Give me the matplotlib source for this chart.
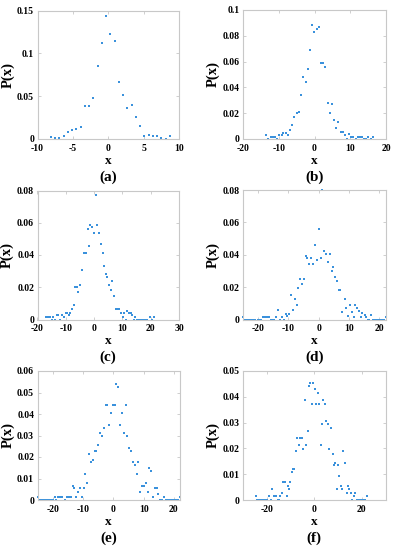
import matplotlib
matplotlib.use("Agg")
import matplotlib.pyplot as plt
from matplotlib.ticker import FuncFormatter

plt.rcParams['font.family'] = ['Liberation Serif', 'DejaVu Serif']
plt.rcParams['font.weight'] = 'bold'
plt.rcParams['axes.unicode_minus'] = False

# ---------------- data ----------------
xa = [-8.1, -7.5, -6.9, -6.3, -5.7, -5.1, -4.5, -3.9, -3.3, -2.7, -2.1, -1.5, -0.9, -0.3,
      0.3, 0.9, 1.5, 2.1, 2.7, 3.3, 3.9, 4.5, 5.1, 5.7, 6.3, 6.9, 7.5, 8.1, 8.7]
pa = [0.0027, 0.001, 0.001, 0.003, 0.008, 0.011, 0.012, 0.014, 0.038, 0.038, 0.048, 0.085, 0.112, 0.143,
      0.122, 0.114, 0.067, 0.051, 0.036, 0.040, 0.026, 0.015, 0.004, 0.005, 0.004, 0.003, 0.0015, 0.0, 0.003]

xb = [-13.6, -12.9, -12.3, -11.7, -11.1, -10.5, -9.9, -9.2, -8.7, -8.0, -7.4, -6.8, -6.2, -5.6, -5.0,
      -4.3, -3.8, -3.1, -2.45, -1.9, -1.3, -0.75, -0.2, 0.57, 1.2, 1.8, 2.45, 3.0, 3.7, 4.2, 4.8,
      5.5, 6.0, 6.7, 7.3, 7.9, 8.5, 9.1, 9.7, 10.3, 10.8, 11.5, 12.1, 12.7, 13.3, 13.9, 14.5, 15.1,
      15.8, 16.3]
pb = [0.003, 0.0, 0.0013, 0.0013, 0.0013, 0.0, 0.003, 0.003, 0.005, 0.0045, 0.003, 0.0066, 0.011, 0.017, 0.020,
      0.021, 0.034, 0.048, 0.044, 0.054, 0.069, 0.088, 0.083, 0.085, 0.087, 0.059, 0.059, 0.056, 0.028, 0.020, 0.027,
      0.015, 0.0085, 0.0134, 0.0054, 0.0054, 0.003, 0.0, 0.004, 0.0013, 0.0013, 0.0, 0.0013, 0.0013, 0.0013, 0.0, 0.0, 0.0013,
      0.0, 0.0013]

xc = [-17.0, -16.3, -15.6, -14.9, -14.4, -13.8, -13.2, -12.6, -12.0, -11.4, -10.8, -10.1, -9.6, -9.0, -8.4,
      -7.8, -7.2, -6.6, -6.2, -5.6, -4.9, -4.3, -3.5, -2.9, -2.3, -1.9, -1.3, -0.6, -0.2, 0.5, 1.2, 1.7,
      2.3, 3.0, 3.5, 4.1, 4.5, 5.2, 5.8, 6.5, 7.1, 7.7, 8.3, 8.9, 9.6, 10.1, 10.6, 11.2, 11.8, 12.4, 12.9,
      13.5, 14.1, 14.6, 15.2, 15.8, 16.4, 17.0, 17.6, 18.2, 18.8, 19.8, 20.5, 21.2]
pc = [0.0015, 0.0015, 0.0015, 0.0, 0.0015, 0.0, 0.0027, 0.0027, 0.0, 0.0027, 0.0015, 0.004, 0.004, 0.0027, 0.004,
      0.0065, 0.0093, 0.020, 0.020, 0.0173, 0.0212, 0.0305, 0.0412, 0.0412, 0.056, 0.0454, 0.0586, 0.0571, 0.0536, 0.0773, 0.0586, 0.0534,
      0.0466, 0.0412, 0.033, 0.028, 0.0266, 0.0212, 0.0186, 0.024, 0.0144, 0.0064, 0.0064, 0.0064, 0.004, 0.0015, 0.004, 0.0, 0.0052, 0.004, 0.004,
      0.0027, 0.0, 0.0015, 0.0, 0.0, 0.0, 0.0, 0.0, 0.0, 0.0, 0.0015, 0.0, 0.0015]

xd = [-24.9, -24.2, -23.6, -22.9, -22.2, -21.6, -20.9, -20.2, -19.6, -19.0, -18.4, -17.8, -17.1, -16.4,
      -15.8, -15.1, -14.6, -14.0, -13.3, -12.7, -12.1, -11.6, -10.9, -10.3, -9.8, -9.2, -8.4, -7.9, -7.3,
      -6.7, -6.1, -5.6, -4.9, -4.2, -3.7, -3.1, -2.4, -1.9, -1.2, -0.6, 0.1, 0.7, 1.2, 1.8, 2.6, 3.1, 3.8,
      4.3, 4.9, 5.4, 6.0, 6.6, 7.2, 7.8, 8.6, 9.2, 9.8, 10.4, 11.0, 11.6, 12.1, 12.8, 13.4, 13.9, 14.5,
      15.2, 15.7, 16.3, 16.8, 17.3, 17.9, 18.5, 19.1, 19.7, 20.3, 20.9, 21.5, 22.3]
pd_ = [0.0015, 0.0, 0.0, 0.0, 0.0, 0.0, 0.0, 0.0, 0.0, 0.0, 0.0015, 0.0015, 0.0015, 0.0015,
       0.0, 0.0, 0.0, 0.0015, 0.0058, 0.0, 0.0015, 0.0, 0.0033, 0.002, 0.0033, 0.0154, 0.0058, 0.0129, 0.0087,
       0.0193, 0.025, 0.022, 0.025, 0.0395, 0.038, 0.034, 0.038, 0.034, 0.0463, 0.0368, 0.0557, 0.038, 0.08, 0.0422, 0.0407, 0.0357, 0.0407,
       0.030, 0.0326, 0.026, 0.0235, 0.018, 0.018, 0.0044, 0.0127, 0.0073, 0.0019, 0.0087, 0.0044, 0.0015, 0.0087, 0.0073, 0.0054, 0.0015, 0.004,
       0.0027, 0.0015, 0.0, 0.0, 0.0027, 0.0, 0.0, 0.0, 0.0, 0.0, 0.0, 0.0, 0.0015]

xe = [-25.0, -24.5, -23.9, -23.2, -22.5, -21.9, -21.2, -20.5, -19.9, -19.3, -18.8, -18.1, -17.5, -16.8,
      -15.9, -15.3, -14.6, -14.0, -13.4, -12.9, -12.3, -11.6, -11.0, -10.3, -9.8, -9.2, -8.7, -8.0, -7.4,
      -6.8, -6.2, -5.6, -5.1, -4.4, -3.7, -3.2, -2.5, -2.0, -1.4, -0.8, -0.1, 0.4, 1.0, 1.6, 2.2, 2.9, 3.4,
      4.1, 4.6, 5.3, 5.9, 6.5, 7.1, 7.7, 8.2, 8.9, 9.6, 10.1, 10.8, 11.3, 11.9, 12.5, 13.1, 13.7, 14.3,
      14.9, 15.5, 16.0, 16.7, 17.4, 18.0, 18.7, 19.3, 20.0, 20.7, 21.3, 21.9]
pe = [0.0013, 0.0, 0.0, 0.0, 0.0, 0.0, 0.0, 0.0, 0.0, 0.0013, 0.0, 0.0013, 0.0013, 0.0013,
      0.0, 0.0013, 0.0013, 0.0013, 0.0067, 0.0055, 0.0013, 0.0039, 0.0055, 0.0013, 0.0055, 0.012, 0.0081, 0.0214, 0.0175,
      0.0188, 0.0228, 0.0228, 0.0255, 0.031, 0.0297, 0.0336, 0.0444, 0.0444, 0.0348, 0.0406, 0.0444, 0.0444, 0.054, 0.0525, 0.0348, 0.0406, 0.031,
      0.0444, 0.0297, 0.024, 0.0228, 0.0175, 0.0161, 0.012, 0.0175, 0.0039, 0.0067, 0.0067, 0.0081, 0.0039, 0.0147, 0.0134, 0.0013, 0.0055, 0.0055,
      0.0028, 0.0, 0.0, 0.0013, 0.0, 0.0, 0.0, 0.0, 0.0, 0.0, 0.0, 0.0013]

xf = [-24.7, -24.0, -23.3, -22.6, -21.8, -21.1, -20.4, -19.7, -19.1, -18.3, -17.9, -17.0, -16.2, -15.3,
      -14.9, -14.3, -13.6, -13.0, -12.3, -11.6, -11.2, -10.6, -10.1, -9.5, -8.9, -8.4, -7.8, -7.1, -6.5,
      -5.9, -5.2, -4.7, -4.0, -3.4, -2.8, -2.1, -1.6, -1.0, -0.4, 0.3, 0.85, 1.4, 2.1, 2.7, 3.3, 3.8, 4.4,
      5.1, 5.7, 6.4, 7.1, 7.7, 8.2, 8.8, 9.4, 10.1, 10.5, 11.2, 11.8, 12.3, 12.9, 13.6, 14.2, 14.8, 15.3,
      16.0, 16.6, 17.2, 17.9, 18.6, 19.3, 20.0, 20.7, 21.4, 22.1]
pf = [0.0015, 0.0, 0.0, 0.0, 0.0, 0.0, 0.0, 0.0, 0.0015, 0.0, 0.0041, 0.0015, 0.0015, 0.0,
      0.0, 0.0015, 0.0028, 0.0068, 0.0068, 0.0015, 0.0054, 0.0041, 0.0068, 0.0107, 0.0121, 0.0121, 0.0189, 0.0242, 0.0213,
      0.0242, 0.0242, 0.0198, 0.0388, 0.0213, 0.0267, 0.044, 0.0452, 0.0374, 0.0452, 0.043, 0.0374, 0.0414, 0.0374, 0.0213, 0.0293, 0.0388, 0.0374,
      0.0308, 0.0293, 0.0198, 0.028, 0.018, 0.0135, 0.0145, 0.0041, 0.0135, 0.0093, 0.0054, 0.0042, 0.0189, 0.0145, 0.0028, 0.0054, 0.0042, 0.0028,
      0.0, 0.0015, 0.0028, 0.0, 0.0, 0.0, 0.0, 0.0, 0.0, 0.0015]

panel_labels = ['(a)', '(b)', '(c)', '(d)', '(e)', '(f)']
series = [(xa, pa), (xb, pb), (xc, pc), (xd, pd_), (xe, pe), (xf, pf)]
xlims = [(-10, 10), (-20, 20), (-20, 30), (-25, 22.3), (-25, 22), (-30, 30)]
xticks = [[-10, -5, 0, 5, 10], [-20, -10, 0, 10, 20], [-20, -10, 0, 10, 20, 30],
          [-20, -10, 0, 10, 20], [-20, -10, 0, 10, 20], [-20, 0, 20]]
ylims = [(0, 0.15), (0, 0.1), (0, 0.08), (0, 0.08), (0, 0.06), (0, 0.05)]
yticks = [[0, 0.05, 0.1, 0.15], [0, 0.02, 0.04, 0.06, 0.08, 0.1], [0, 0.02, 0.04, 0.06, 0.08],
          [0, 0.02, 0.04, 0.06, 0.08], [0, 0.01, 0.02, 0.03, 0.04, 0.05, 0.06],
          [0, 0.01, 0.02, 0.03, 0.04, 0.05]]

# ---------------- layout (pixels) ----------------
W, H = 394, 550
boxes = [(37.5, 10.5, 179, 139), (243, 10, 386, 139),
         (37.5, 190.5, 179, 319.5), (243, 190, 386, 319.5),
         (37.5, 371, 180, 500), (243, 371, 385.5, 500)]
label_y = [177, 177, 357, 357, 538, 538]

fig = plt.figure(figsize=(W / 100, H / 100), dpi=100)
color = '#3a91dc'
edge = '#c8c8c8'
fmt = FuncFormatter(lambda v, p: ('%g' % v))

for i, (l, t, r, b) in enumerate(boxes):
    ax = fig.add_axes([l / W, 1 - b / H, (r - l) / W, (b - t) / H])
    x, y = series[i]
    ax.plot(x, y, linestyle='none', marker='s', markersize=1.7, color=color,
            markeredgewidth=0, clip_on=False)
    ax.set_xlim(*xlims[i])
    ax.set_ylim(*ylims[i])
    ax.set_xticks(xticks[i])
    ax.set_yticks(yticks[i])
    ax.xaxis.set_major_formatter(fmt)
    ax.yaxis.set_major_formatter(fmt)
    for s in ax.spines.values():
        s.set_color(edge)
        s.set_linewidth(0.8)
    ax.tick_params(direction='in', length=2.5, width=0.6, color=edge,
                   top=True, right=True, labelsize=7, labelcolor='black')
    ax.tick_params(axis='x', pad=3.5)
    ax.tick_params(axis='y', pad=2.5)
    for lab in ax.get_xticklabels() + ax.get_yticklabels():
        lab.set_fontweight('bold')
    ax.set_xlabel('x', fontsize=9.5, fontweight='bold', labelpad=1.5)
    ax.set_ylabel('P(x)', fontsize=10.5, fontweight='bold', labelpad=2)
    fig.text(((l + r) / 2) / W, 1 - label_y[i] / H, panel_labels[i],
             ha='center', va='center', fontsize=11, fontweight='bold')

fig.savefig('out.png', dpi=100)
